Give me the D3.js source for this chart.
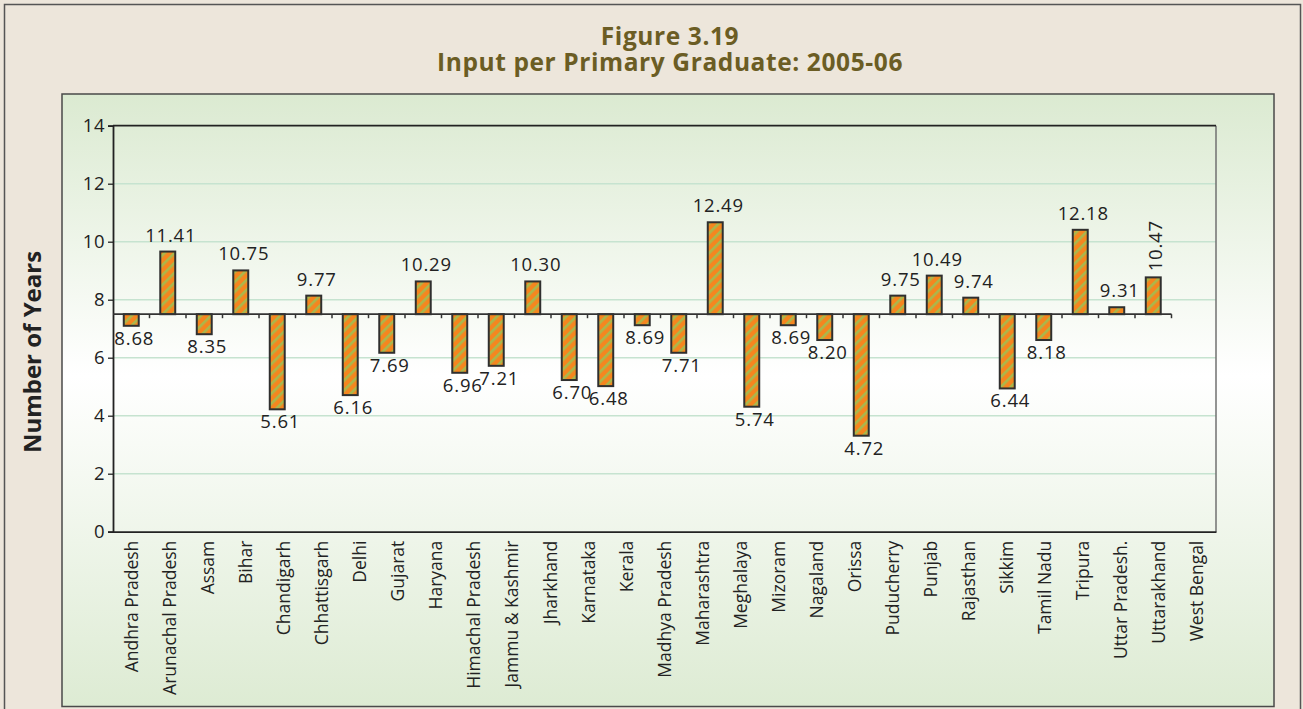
<!DOCTYPE html>
<html>
<head>
<meta charset="utf-8">
<script src="https://cdn.jsdelivr.net/npm/d3@7"></script>
<style>
  html, body { margin: 0; padding: 0; background: #ede6db; }
  svg { display: block; }
</style>
</head>
<body>
<svg id="chart" width="1303" height="709"></svg>
<script>
// ---------- data ----------
const categories = ["Andhra Pradesh","Arunachal Pradesh","Assam","Bihar","Chandigarh","Chhattisgarh","Delhi","Gujarat","Haryana","Himachal Pradesh","Jammu & Kashmir","Jharkhand","Karnataka","Kerala","Madhya Pradesh","Maharashtra","Meghalaya","Mizoram","Nagaland","Orissa","Puducherry","Punjab","Rajasthan","Sikkim","Tamil Nadu","Tripura","Uttar Pradesh.","Uttarakhand","West Bengal"];
// bar ends as drawn (bars grow from the 7.5 reference line)
const barValues = [7.10, 9.66, 6.81, 9.01, 4.22, 8.14, 4.71, 6.17, 8.63, 5.48, 5.72, 8.63, 5.23, 5.02, 7.12, 6.17, 10.67, 4.31, 7.12, 6.61, 3.31, 8.14, 8.83, 8.07, 4.94, 6.61, 10.41, 7.74, 8.77];
// data labels printed on the bars
const valueLabels = ["8.68","11.41","8.35","10.75","5.61","9.77","6.16","7.69","10.29","6.96","7.21","10.30","6.70","6.48","8.69","7.71","12.49","5.74","8.69","8.20","4.72","9.75","10.49","9.74","6.44","8.18","12.18","9.31","10.47"];
const referenceValue = 7.5;
const yTicks = [0, 2, 4, 6, 8, 10, 12, 14];
const titleLines = ["Figure 3.19", "Input per Primary Graduate: 2005-06"];
const yTitle = "Number of Years";

// ---------- layout ----------
const svg = d3.select("#chart");
const plot = { left: 113, right: 1216, top: 125.7, bottom: 531.7 };
const barRangeRight = 1171.5;

// defs: background gradient & stripe pattern
const defs = svg.append("defs");
const grad = defs.append("linearGradient").attr("id", "panelGrad")
  .attr("x1", 0).attr("y1", 0).attr("x2", 0).attr("y2", 1);
grad.append("stop").attr("offset", "0%").attr("stop-color", "#dbead1");
grad.append("stop").attr("offset", "46%").attr("stop-color", "#ffffff");
grad.append("stop").attr("offset", "100%").attr("stop-color", "#ddebd3");

const pat = defs.append("pattern").attr("id", "stripes")
  .attr("patternUnits", "userSpaceOnUse")
  .attr("width", 7).attr("height", 7)
  .attr("patternTransform", "rotate(45)");
pat.append("rect").attr("width", 7).attr("height", 7).attr("fill", "#f5861f");
pat.append("rect").attr("width", 2.6).attr("height", 7).attr("fill", "#a9b84c");

// outer frame
svg.append("rect").attr("x", 4.5).attr("y", 4.5).attr("width", 1296).attr("height", 720)
  .attr("fill", "#ede6db").attr("stroke", "#555").attr("stroke-width", 1.5);

// title
const title = svg.append("text").attr("text-anchor", "middle")
  .attr("font-family", "'Open Sans', sans-serif").attr("font-weight", "bold")
  .attr("font-size", 24.5).attr("letter-spacing", "0.6px").attr("fill", "#6b5d24");
title.selectAll("tspan").data(titleLines).join("tspan")
  .attr("x", 670).attr("y", (d, i) => 45 + i * 25.5).text(d => d);

// panel
svg.append("rect").attr("x", 62).attr("y", 94).attr("width", 1212).attr("height", 612.5)
  .attr("fill", "url(#panelGrad)").attr("stroke", "#4a4a4a").attr("stroke-width", 1.5);

// y title
svg.append("text")
  .attr("transform", "translate(33,352) rotate(-90)")
  .attr("text-anchor", "middle").attr("dy", "0.35em")
  .attr("font-family", "'Open Sans', sans-serif").attr("font-weight", "bold")
  .attr("font-size", 24).attr("fill", "#222").text(yTitle);

// scales
const y = d3.scaleLinear().domain([0, 14]).range([plot.bottom, plot.top]);
const xCat = d3.scaleBand().domain(categories).range([plot.left, plot.right]);
const xBar = d3.scaleBand().domain(d3.range(barValues.length))
  .range([plot.left, barRangeRight]).paddingInner(0.59).paddingOuter(0.295);
const step = xBar.step();

// gridlines
svg.append("g").selectAll("line").data(yTicks.filter(t => t > 0 && t < 14)).join("line")
  .attr("x1", plot.left).attr("x2", plot.right)
  .attr("y1", d => y(d)).attr("y2", d => y(d))
  .attr("stroke", "#c6e3d0").attr("stroke-width", 1.5);

// plot frame: right side grey, top dark
svg.append("line").attr("x1", plot.right).attr("x2", plot.right)
  .attr("y1", plot.top).attr("y2", plot.bottom).attr("stroke", "#707070").attr("stroke-width", 1.5);
svg.append("line").attr("x1", plot.left).attr("x2", plot.right)
  .attr("y1", plot.top).attr("y2", plot.top).attr("stroke", "#222").attr("stroke-width", 1.8);

// y axis
const yAxis = svg.append("g").attr("transform", `translate(${plot.left},0)`)
  .call(d3.axisLeft(y).tickValues(yTicks).tickSize(5).tickPadding(3));
yAxis.select(".domain").attr("stroke", "#222").attr("stroke-width", 1.8);
yAxis.selectAll(".tick line").attr("stroke", "#222").attr("stroke-width", 1.3);
yAxis.selectAll(".tick text").attr("font-family", "'Open Sans', sans-serif")
  .attr("font-size", 18.5).attr("fill", "#222").attr("letter-spacing", "0.5px");

// x axis (category labels)
const xAxis = svg.append("g").attr("transform", `translate(0,${plot.bottom})`)
  .call(d3.axisBottom(xCat).tickSize(0).tickPadding(0));
xAxis.select(".domain").attr("stroke", "#222").attr("stroke-width", 1.8);
xAxis.selectAll(".tick text")
  .attr("transform", "translate(0,9) rotate(-90)")
  .attr("text-anchor", "end").attr("x", 0).attr("y", 0).attr("dy", "0.35em")
  .attr("font-family", "'Open Sans', sans-serif").attr("font-size", 17.5).attr("fill", "#222");

// bars
const y0 = y(referenceValue);
svg.append("g").selectAll("rect").data(barValues).join("rect")
  .attr("x", (d, i) => xBar(i))
  .attr("width", xBar.bandwidth())
  .attr("y", d => Math.min(y(d), y0))
  .attr("height", d => Math.abs(y(d) - y0))
  .attr("fill", "url(#stripes)")
  .attr("stroke", "#2f2f2f").attr("stroke-width", 2);

// reference line with ticks
svg.append("line").attr("x1", plot.left).attr("x2", barRangeRight)
  .attr("y1", y0).attr("y2", y0).attr("stroke", "#333").attr("stroke-width", 1.8);
svg.append("g").selectAll("line").data(d3.range(1, barValues.length + 1)).join("line")
  .attr("x1", i => plot.left + i * step).attr("x2", i => plot.left + i * step)
  .attr("y1", y0).attr("y2", y0 + 4)
  .attr("stroke", "#333").attr("stroke-width", 1.5);

// data labels
const last = barValues.length - 1;
svg.append("g").selectAll("text").data(barValues).join("text")
  .attr("font-family", "'Open Sans', sans-serif").attr("font-size", 18.5)
  .attr("letter-spacing", "0.8px").attr("fill", "#222")
  .each(function (d, i) {
    const cx = xBar(i) + xBar.bandwidth() / 2;
    const t = d3.select(this).text(valueLabels[i]);
    if (i === last) {
      t.attr("transform", `translate(${cx + 2},${y(d) - 6}) rotate(-90)`)
        .attr("text-anchor", "start").attr("dy", "0.35em");
    } else if (d >= referenceValue) {
      t.attr("x", cx + 3).attr("y", y(d) - 10).attr("text-anchor", "middle");
    } else {
      t.attr("x", cx + 3).attr("y", y(d) + 19).attr("text-anchor", "middle");
    }
  });
</script>
</body>
</html>
